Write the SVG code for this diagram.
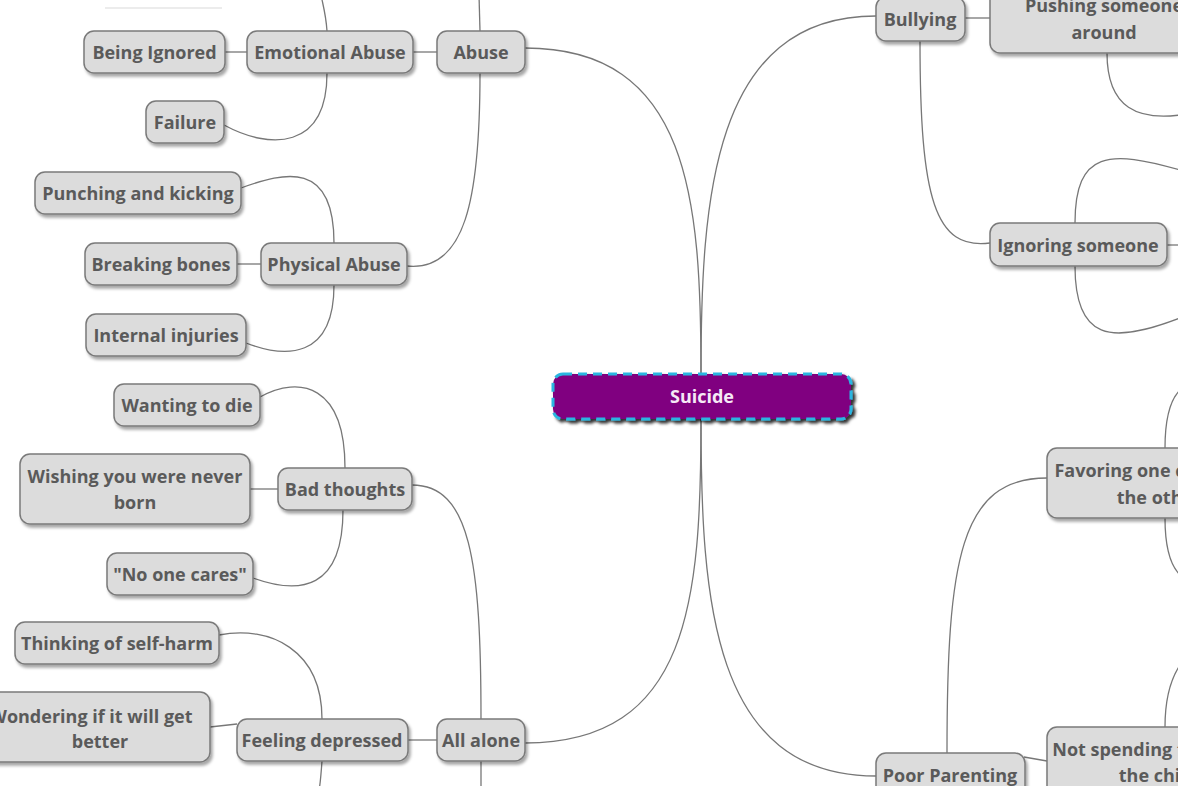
<svg xmlns="http://www.w3.org/2000/svg" width="1178" height="786" viewBox="0 0 1178 786">
<defs>
<filter id="sh" x="-20%" y="-30%" width="140%" height="170%">
<feDropShadow dx="2" dy="3" stdDeviation="1.6" flood-color="#000" flood-opacity="0.35"/>
</filter>
<filter id="shc" x="-10%" y="-30%" width="120%" height="170%">
<feDropShadow dx="3" dy="3" stdDeviation="1.5" flood-color="#000" flood-opacity="0.8"/>
</filter>
</defs>
<style>
.n rect{fill:#dcdcdc;stroke:#7a7a7a;stroke-width:1.5;filter:url(#sh)}
.n text{font-family:"Open Sans","Noto Sans",sans-serif;font-weight:700;font-size:18px;fill:#5a5a5a;text-anchor:middle;dominant-baseline:central}
.c path{fill:none;stroke:#777;stroke-width:1.3}
</style>
<rect width="1178" height="786" fill="#fff"/>
<line x1="105" y1="8" x2="222" y2="8" stroke="#ececec" stroke-width="2"/>
<g id="connectors" class="c">
<path d="M701 374 C701 200 690 48 525 48"/>
<path d="M701 374 C701 200 712 16 876 16"/>
<path d="M701 419 C701 600 690 743 525 743"/>
<path d="M701 419 C701 600 712 776 876 776"/>
<path d="M480 31 L479 -5"/>
<path d="M437 52 L413 52"/>
<path d="M247 52 L225 52"/>
<path d="M327 31 C326 15 323 5 321 -5"/>
<path d="M327 73 C327 150 270 150 224 125"/>
<path d="M480 73 C480 200 465 272 407 266"/>
<path d="M334 243 C334 160 285 172 241 188"/>
<path d="M261 264 L237 264"/>
<path d="M334 285 C334 360 285 358 246 343"/>
<path d="M481 719 C481 560 470 485 412 485"/>
<path d="M437 740 L408 740"/>
<path d="M481 761 L481 790"/>
<path d="M322 761 C321 775 320 786 319 790"/>
<path d="M322 719 C322 650 270 625 219 635"/>
<path d="M237 724 L210 727"/>
<path d="M345 468 C345 385 300 375 260 397"/>
<path d="M278 489 L250 489"/>
<path d="M343 510 C343 590 300 595 253 578"/>
<path d="M965 18 L990 18"/>
<path d="M920 41 C920 200 935 250 990 243"/>
<path d="M1107 53 C1107 110 1140 120 1180 115"/>
<path d="M1167 245 L1180 245"/>
<path d="M1075 223 C1075 150 1110 150 1180 170"/>
<path d="M1075 266 C1075 340 1110 345 1180 318"/>
<path d="M947 753 C947 560 960 478 1047 478"/>
<path d="M1024 757 L1047 761"/>
<path d="M1165 448 C1165 420 1170 400 1180 390"/>
<path d="M1165 518 C1165 545 1170 565 1180 575"/>
<path d="M1165 727 C1165 700 1170 680 1180 665"/>
</g>
<g id="suicide">
<rect x="553" y="374" width="298" height="45" rx="10" fill="#800080" stroke="#2bb5e0" stroke-width="3" stroke-dasharray="9 6" filter="url(#shc)"/>
<text x="702" y="396" font-family="'Open Sans','Noto Sans',sans-serif" font-weight="700" font-size="18" fill="#f6e9f6" text-anchor="middle" dominant-baseline="central">Suicide</text>
</g>
<g id="abuse" class="n"><rect x="437" y="31" width="88" height="42" rx="10"/><text x="481" y="52">Abuse</text></g>
<g id="emotional-abuse" class="n"><rect x="247" y="31" width="166" height="42" rx="10"/><text x="330" y="52">Emotional Abuse</text></g>
<g id="being-ignored" class="n"><rect x="84" y="31" width="141" height="42" rx="10"/><text x="154.5" y="52">Being Ignored</text></g>
<g id="failure" class="n"><rect x="146" y="101" width="78" height="42" rx="10"/><text x="185" y="122">Failure</text></g>
<g id="physical-abuse" class="n"><rect x="261" y="243" width="146" height="42" rx="10"/><text x="334" y="264">Physical Abuse</text></g>
<g id="punching" class="n"><rect x="35" y="172" width="206" height="42" rx="10"/><text x="138" y="193">Punching and kicking</text></g>
<g id="breaking-bones" class="n"><rect x="85" y="243" width="152" height="42" rx="10"/><text x="161" y="264">Breaking bones</text></g>
<g id="internal-injuries" class="n"><rect x="86" y="314" width="160" height="42" rx="10"/><text x="166" y="335">Internal injuries</text></g>
<g id="bad-thoughts" class="n"><rect x="278" y="468" width="134" height="42" rx="10"/><text x="345" y="489">Bad thoughts</text></g>
<g id="wanting-to-die" class="n"><rect x="114" y="384" width="146" height="42" rx="10"/><text x="187" y="405">Wanting to die</text></g>
<g id="wishing" class="n"><rect x="20" y="454" width="230" height="70" rx="10"/><text x="135" y="476">Wishing you were never</text><text x="135" y="502">born</text></g>
<g id="no-one-cares" class="n"><rect x="107" y="553" width="146" height="42" rx="10"/><text x="180" y="574">"No one cares"</text></g>
<g id="all-alone" class="n"><rect x="437" y="719" width="88" height="42" rx="10"/><text x="481" y="740">All alone</text></g>
<g id="feeling-depressed" class="n"><rect x="237" y="719" width="171" height="42" rx="10"/><text x="322" y="740">Feeling depressed</text></g>
<g id="thinking-self-harm" class="n"><rect x="15" y="622" width="204" height="42" rx="10"/><text x="117" y="643">Thinking of self-harm</text></g>
<g id="wondering" class="n"><rect x="-25" y="692" width="235" height="70" rx="10"/><text x="91" y="716">Wondering if it will get</text><text x="100" y="741">better</text></g>
<g id="bullying" class="n"><rect x="876" y="-3" width="89" height="44" rx="10"/><text x="920" y="19">Bullying</text></g>
<g id="pushing" class="n"><rect x="990" y="-20" width="230" height="73" rx="10"/><text x="1104" y="5">Pushing someone</text><text x="1104" y="32">around</text></g>
<g id="ignoring-someone" class="n"><rect x="990" y="223" width="177" height="43" rx="10"/><text x="1078" y="245">Ignoring someone</text></g>
<g id="poor-parenting" class="n"><rect x="876" y="753" width="149" height="44" rx="10"/><text x="950" y="775">Poor Parenting</text></g>
<g id="favoring" class="n"><rect x="1047" y="448" width="225" height="70" rx="10"/><text x="1159" y="470">Favoring one child over</text><text x="1159" y="497">the other</text></g>
<g id="not-spending" class="n"><rect x="1047" y="727" width="225" height="73" rx="10"/><text x="1158" y="749">Not spending time with</text><text x="1158" y="775">the child</text></g>
</svg>
